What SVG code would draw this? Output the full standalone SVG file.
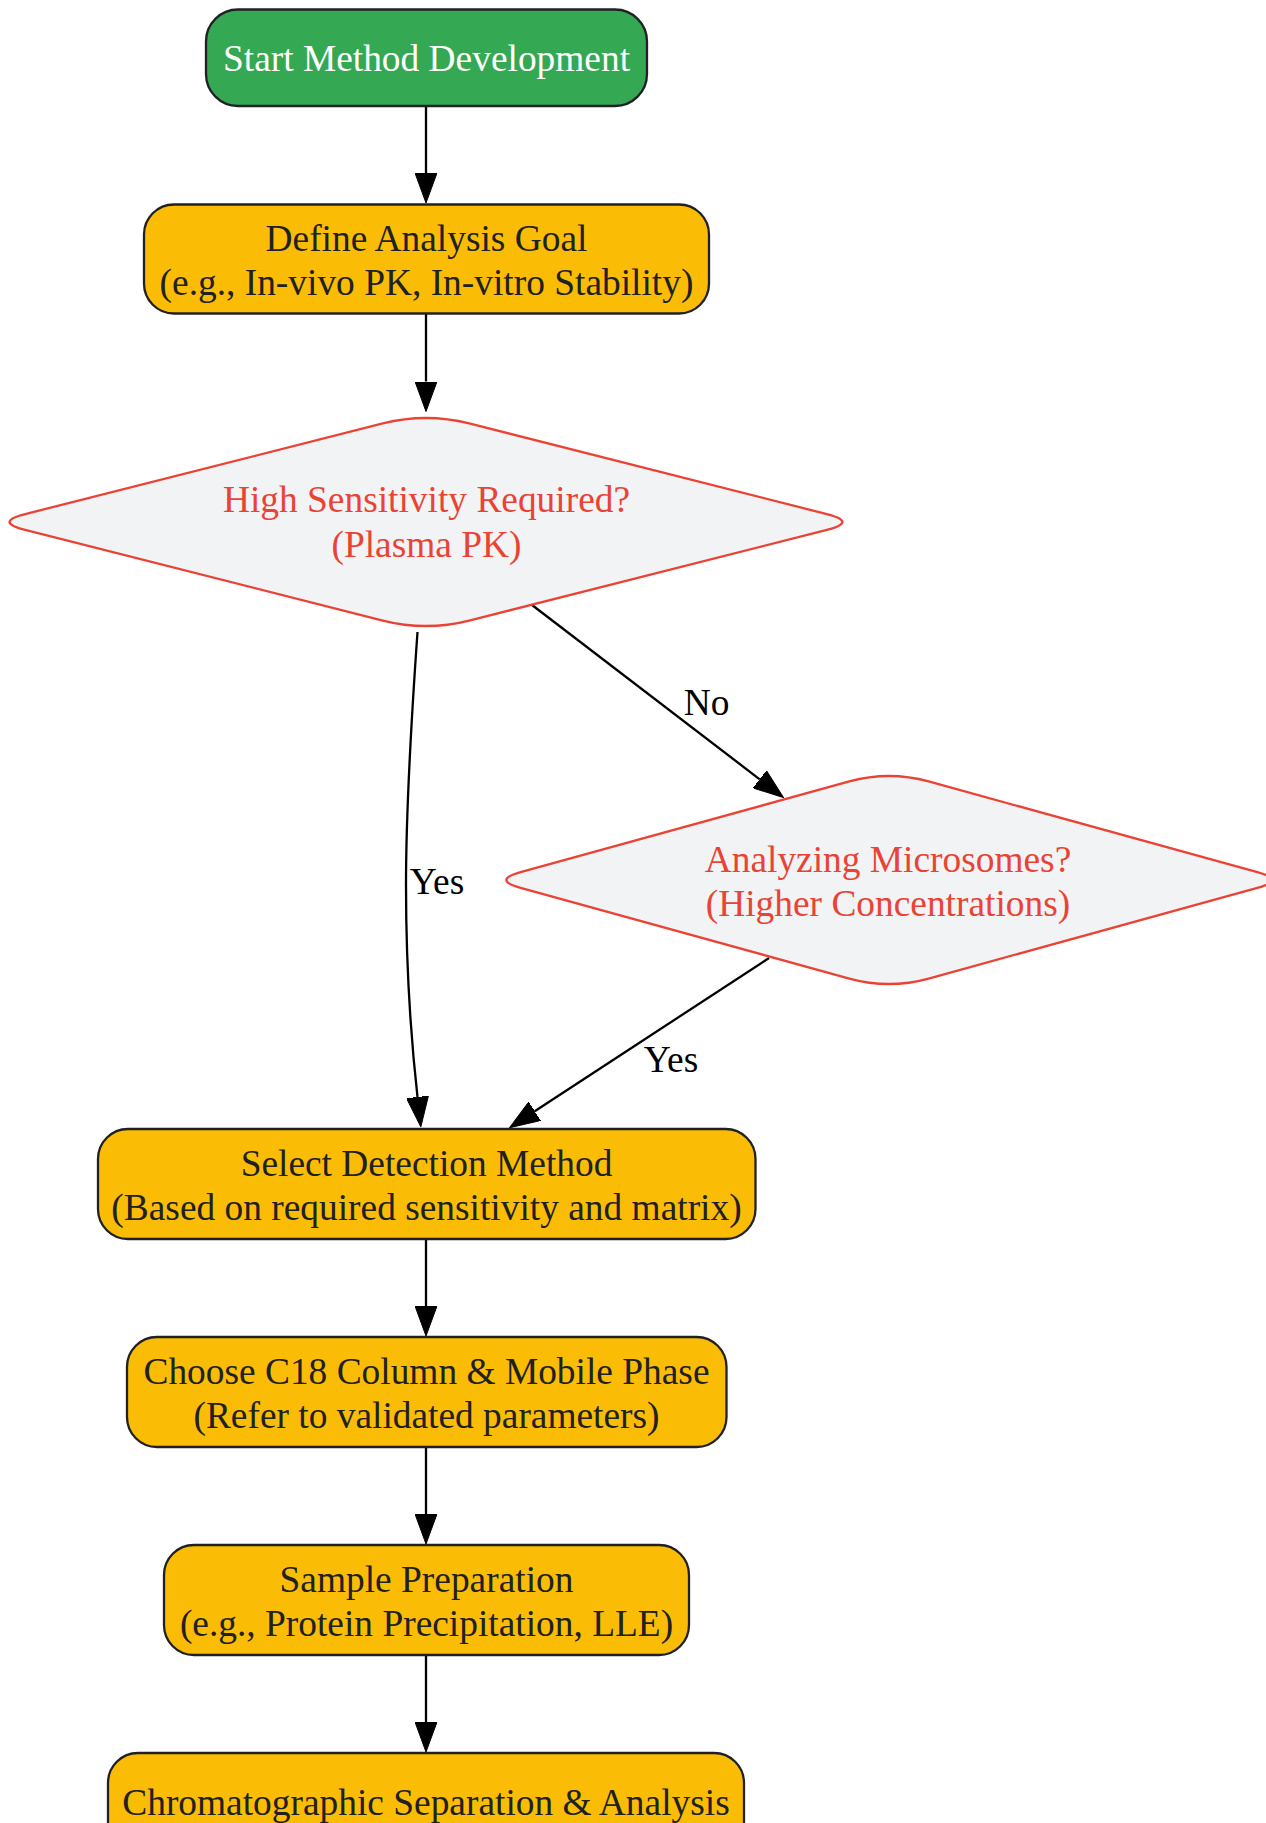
<svg xmlns="http://www.w3.org/2000/svg" width="1266" height="1823" viewBox="0 0 1266 1823">
<style>
  .lbl { font-family: "Liberation Serif", "Times New Roman", serif; font-size: 37.4px; text-anchor: middle; }
  .box { fill: #FBBC05; stroke: #202124; stroke-width: 2.3; }
  .start { fill: #34A853; stroke: #202124; stroke-width: 2.3; }
  .dia { fill: #F1F3F4; stroke: #EA4335; stroke-width: 2.3; }
  .t-dark { fill: #202124; }
  .t-white { fill: #FFFFFF; }
  .t-red { fill: #EA4335; }
  .edge { fill: none; stroke: #000000; stroke-width: 2.3; marker-end: url(#arrow); }
  .elbl { font-family: "Liberation Serif", "Times New Roman", serif; font-size: 37.4px; text-anchor: middle; fill: #000000; }
</style>
<defs>
  <marker id="arrow" viewBox="0 -11 30 22" refX="0" refY="0" markerWidth="30" markerHeight="22" markerUnits="userSpaceOnUse" orient="auto">
    <path d="M0,-11 L30,0 L0,11 z" fill="#000000" stroke="#000000" stroke-width="1"/>
  </marker>
</defs>
<rect width="1266" height="1823" fill="#FFFFFF"/>

<g id="connectors">
  <path class="edge" d="M426,106 L426,173"/>
  <path class="edge" d="M426,314 L426,381.5"/>
  <path class="edge" d="M532,605 L759.7,779.3"/>
  <text class="elbl" x="706.5" y="715">No</text>
  <path class="edge" d="M417.5,632 C412,710 406,800 406,885 C406,960 410,1030 417.5,1097"/>
  <text class="elbl" x="437" y="894">Yes</text>
  <path class="edge" d="M769,958 L534.7,1111.3"/>
  <text class="elbl" x="671" y="1072">Yes</text>
  <path class="edge" d="M426,1240 L426,1306"/>
  <path class="edge" d="M426,1448 L426,1514"/>
  <path class="edge" d="M426,1656 L426,1722"/>
</g>

<g id="start">
  <rect class="start" x="206" y="9.5" width="441" height="96.5" rx="32" ry="32"/>
  <text class="lbl t-white" x="426.5" y="71">Start Method Development</text>
</g>

<g id="define_goal">
  <rect class="box" x="144" y="204.5" width="565" height="109" rx="30" ry="30"/>
  <text class="lbl t-dark" x="426.5" y="250.5">Define Analysis Goal</text>
  <text class="lbl t-dark" x="426.5" y="295">(e.g., In-vivo PK, In-vitro Stability)</text>
</g>

<g id="high_sensitivity">
  <path class="dia" d="M382.8,423.45 L25.1,514.1 Q-6,522 25.1,529.9 L382.8,620.55 Q426,631.5 469.2,620.55 L826.9,529.9 Q858,522 826.9,514.1 L469.2,423.45 Q426,412.5 382.8,423.45 Z"/>
  <text class="lbl t-red" x="426.5" y="512">High Sensitivity Required?</text>
  <text class="lbl t-red" x="426.5" y="556.5">(Plasma PK)</text>
</g>

<g id="microsomes">
  <path class="dia" d="M849.3,781.45 L520.6,872.1 Q492,880 520.6,887.9 L849.3,978.55 Q889,989.5 928.7,978.55 L1257.4,887.9 Q1286,880 1257.4,872.1 L928.7,781.45 Q889,770.5 849.3,781.45 Z"/>
  <text class="lbl t-red" x="888" y="872">Analyzing Microsomes?</text>
  <text class="lbl t-red" x="888" y="915.5">(Higher Concentrations)</text>
</g>

<g id="select_detection">
  <rect class="box" x="98" y="1129" width="657.5" height="110" rx="30" ry="30"/>
  <text class="lbl t-dark" x="426.5" y="1176">Select Detection Method</text>
  <text class="lbl t-dark" x="426.5" y="1219.5">(Based on required sensitivity and matrix)</text>
</g>

<g id="choose_column">
  <rect class="box" x="127" y="1337" width="599.5" height="110" rx="30" ry="30"/>
  <text class="lbl t-dark" x="426.5" y="1383.5">Choose C18 Column &amp; Mobile Phase</text>
  <text class="lbl t-dark" x="426.5" y="1427.5">(Refer to validated parameters)</text>
</g>

<g id="sample_prep">
  <rect class="box" x="164" y="1545" width="525" height="110" rx="30" ry="30"/>
  <text class="lbl t-dark" x="426.5" y="1591.5">Sample Preparation</text>
  <text class="lbl t-dark" x="426.5" y="1635.5">(e.g., Protein Precipitation, LLE)</text>
</g>

<g id="chromatography">
  <rect class="box" x="108" y="1753" width="636" height="110" rx="30" ry="30"/>
  <text class="lbl t-dark" x="426" y="1815">Chromatographic Separation &amp; Analysis</text>
</g>
</svg>
